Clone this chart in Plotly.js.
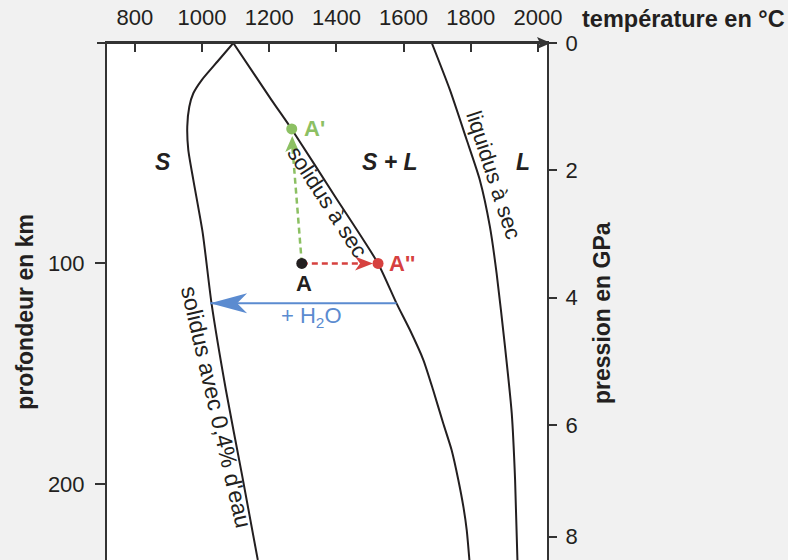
<!DOCTYPE html>
<html>
<head>
<meta charset="utf-8">
<script src="https://cdn.plot.ly/plotly-3.0.1.min.js"></script>
<style>html,body{margin:0;padding:0;background:#f1f1f1;}</style>
</head>
<body>
<div id="chart" style="width:788px;height:560px;"></div>
<script>
// ---- data (temperature °C, depth km) ----
const tempTicks = [800, 1000, 1200, 1400, 1600, 1800, 2000];
const depthTicks = [100, 200];
const pressureLabels = ['0', '2', '4', '6', '8'];
const pressureDepths = [0, 57.6, 115.5, 173.3, 223.9];

const wetSolidusT = [1093, 1046, 999, 974, 962, 956, 959, 974, 1002, 1028, 1071, 1119, 1166];
const wetSolidusD = [0, 8.4, 16.8, 22.8, 28.9, 37.9, 48.5, 62.1, 86.2, 117.9, 157.4, 195.9, 234.5];

const drySolidusT = [1093, 1207, 1267, 1395, 1524, 1579, 1619, 1659, 1688, 1718, 1743, 1763, 1778, 1788, 1796];
const drySolidusD = [0, 25.9, 39.1, 69.4, 100, 118.1, 130.2, 143.8, 157.4, 172.5, 184.6, 198.2, 210.3, 220.9, 234.5];

const liquidusT = [1684, 1738, 1788, 1827, 1857, 1877, 1902, 1922, 1932, 1939];
const liquidusD = [0, 21.3, 44, 62.1, 83.3, 104.5, 137.8, 167.9, 198.2, 234.5];

const pointA = {T: 1297, D: 100};
const pointA1 = {T: 1267, D: 39};     // A'
const pointA2 = {T: 1524, D: 100};    // A''
const hydrationDepth = 118;
const hydrationFromT = 1579;
const hydrationToT = 1024;

// ---- style ----
const FONT = 'Liberation Sans, Arial, sans-serif';
const INK = '#231f20';
const AXIS = '#333333';
const GREEN = '#8cc063';
const RED = '#d6413f';
const BLUE = '#5b8bd0';

const curve = (x, y) => ({
  x, y, type: 'scatter', mode: 'lines', hoverinfo: 'skip', showlegend: false,
  line: {color: INK, width: 2, shape: 'spline', smoothing: 0.6}
});

// tips of the dashed arrows (a bit before the target dots)
const greenTipD = pointA1.D + 3.2;
const greenTipT = pointA1.T + (pointA.T - pointA1.T) * (greenTipD - pointA1.D) / (pointA.D - pointA1.D);
const redTipT = pointA2.T - 15;

const traces = [
  curve(wetSolidusT, wetSolidusD),
  curve(drySolidusT, drySolidusD),
  curve(liquidusT, liquidusD),
  {x: [pointA.T, greenTipT], y: [pointA.D, greenTipD + 4], type: 'scatter', mode: 'lines', showlegend: false, hoverinfo: 'skip',
   line: {color: GREEN, width: 2.5, dash: '6px,4px'}},
  {x: [pointA.T, redTipT - 30], y: [pointA.D, pointA.D], type: 'scatter', mode: 'lines', showlegend: false, hoverinfo: 'skip',
   line: {color: RED, width: 2.5, dash: '6px,4px'}},
  {x: [hydrationFromT, hydrationToT], y: [hydrationDepth, hydrationDepth], type: 'scatter', mode: 'lines', showlegend: false, hoverinfo: 'skip',
   line: {color: BLUE, width: 2}},
  {x: [pointA1.T], y: [pointA1.D], type: 'scatter', mode: 'markers', showlegend: false, hoverinfo: 'skip',
   marker: {color: GREEN, size: 11}},
  {x: [pointA2.T], y: [pointA2.D], type: 'scatter', mode: 'markers', showlegend: false, hoverinfo: 'skip',
   marker: {color: RED, size: 11}},
  {x: [pointA.T], y: [pointA.D], type: 'scatter', mode: 'markers', showlegend: false, hoverinfo: 'skip',
   marker: {color: INK, size: 11}},
  // invisible trace carrying the pressure axis
  {x: [pointA.T], y: [pointA.D], yaxis: 'y2', type: 'scatter', mode: 'markers', showlegend: false, hoverinfo: 'skip',
   marker: {opacity: 0}}
];

const label = (x, y, text, opts) => Object.assign({
  x, y, xref: 'x', yref: 'y', text, showarrow: false,
  font: {family: FONT, size: 22, color: INK}
}, opts || {});

const annotations = [
  {x: 1, y: 1, xref: 'paper', yref: 'paper', xanchor: 'left', yanchor: 'middle', xshift: 33, yshift: 24,
   text: '<b>température en °C</b>', showarrow: false, font: {family: FONT, size: 23.5, color: INK}},
  // axis titles
  {x: -0.186, y: 0.4807, xref: 'paper', yref: 'paper', xanchor: 'center', yanchor: 'middle', textangle: -90, showarrow: false,
   text: '<b>profondeur en km</b>', font: {family: FONT, size: 23, color: INK}},
  {x: 1.125, y: 0.4778, xref: 'paper', yref: 'paper', xanchor: 'center', yanchor: 'middle', textangle: -90, showarrow: false,
   text: '<b>pression en GPa</b>', font: {family: FONT, size: 23, color: INK}},
  // region labels
  label(883, 54, '<b><i>S</i></b>', {font: {family: FONT, size: 23, color: INK}}),
  label(1559, 54, '<b><i>S + L</i></b>', {font: {family: FONT, size: 23, color: INK}}),
  label(1955, 54, '<b><i>L</i></b>', {font: {family: FONT, size: 23, color: INK}}),
  // curve labels
  label(1372, 72, 'solidus à sec', {textangle: 57}),
  label(1869, 60, 'liquidus à sec', {textangle: 72}),
  label(1043, 165, 'solidus avec 0,4% d\'eau', {textangle: 77, font: {family: FONT, size: 23, color: INK}}),
  // point labels
  label(pointA.T + 6, pointA.D + 9, '<b>A</b>'),
  label(pointA1.T + 31, pointA1.D, '<b>A\'</b>', {xanchor: 'left', font: {family: FONT, size: 22, color: GREEN}}),
  label(pointA2.T + 28, pointA2.D, '<b>A\'\'</b>', {xanchor: 'left', font: {family: FONT, size: 22, color: RED}}),
  label(1327, hydrationDepth + 6.5, '+ H<sub>2</sub>O', {font: {family: FONT, size: 22, color: BLUE}})
];

const arrowShape = (xa, ya, path, color, xref, yref) => ({
  type: 'path', xref: xref || 'x', yref: yref || 'y', xsizemode: 'pixel', ysizemode: 'pixel',
  xanchor: xa, yanchor: ya, path, fillcolor: color, line: {width: 0}
});

const shapes = [
  // top axis line extended to the left, with arrow on the right
  {type: 'line', xref: 'paper', yref: 'paper', x0: -0.0227, x1: 1, y0: 1, y1: 1, line: {color: AXIS, width: 2}},
  arrowShape(1, 1, 'M4,0 L-10,-6 L-7,0 L-10,6 Z', AXIS, 'paper', 'paper'),
  arrowShape(hydrationToT, hydrationDepth, 'M0,0 L37,-10 L27,0 L37,10 Z', BLUE),
  arrowShape(redTipT, pointA.D, 'M0,0 L-18,-7 L-13,0 L-18,7 Z', RED),
  arrowShape(greenTipT, greenTipD, 'M0,0 L-7,-16 L0,-12 L7,-16 Z', GREEN)
];

const layout = {
  width: 788, height: 560,
  margin: {l: 107, r: 241, t: 43, b: 0, pad: 0},
  paper_bgcolor: '#f1f1f1',
  plot_bgcolor: '#ffffff',
  showlegend: false,
  font: {family: FONT, color: INK, size: 22},
  xaxis: {
    side: 'top', range: [717, 2027], tickvals: tempTicks, ticktext: tempTicks.map(String),
    ticks: 'inside', ticklen: 9, tickwidth: 2, tickcolor: AXIS,
    showline: true, linecolor: AXIS, linewidth: 2, showgrid: false, zeroline: false,
    tickfont: {family: FONT, size: 22, color: INK}, ticklabelstandoff: 7, fixedrange: true
  },
  yaxis: {
    range: [234.5, 0], tickvals: depthTicks, ticktext: depthTicks.map(String),
    ticks: 'outside', ticklen: 10, tickwidth: 2, tickcolor: AXIS,
    showline: true, linecolor: AXIS, linewidth: 2, showgrid: false, zeroline: false,
    tickfont: {family: FONT, size: 22, color: INK}, ticklabelstandoff: 6,
    fixedrange: true
  },
  yaxis2: {
    overlaying: 'y', side: 'right', range: [234.5, 0],
    tickvals: pressureDepths, ticktext: pressureLabels,
    ticks: 'outside', ticklen: 8, tickwidth: 2, tickcolor: AXIS,
    showline: true, linecolor: AXIS, linewidth: 2, showgrid: false, zeroline: false,
    tickfont: {family: FONT, size: 22, color: INK}, ticklabelstandoff: 4,
    fixedrange: true
  },
  annotations, shapes
};

Plotly.newPlot('chart', traces, layout, {staticPlot: true, displayModeBar: false});
</script>
</body>
</html>
